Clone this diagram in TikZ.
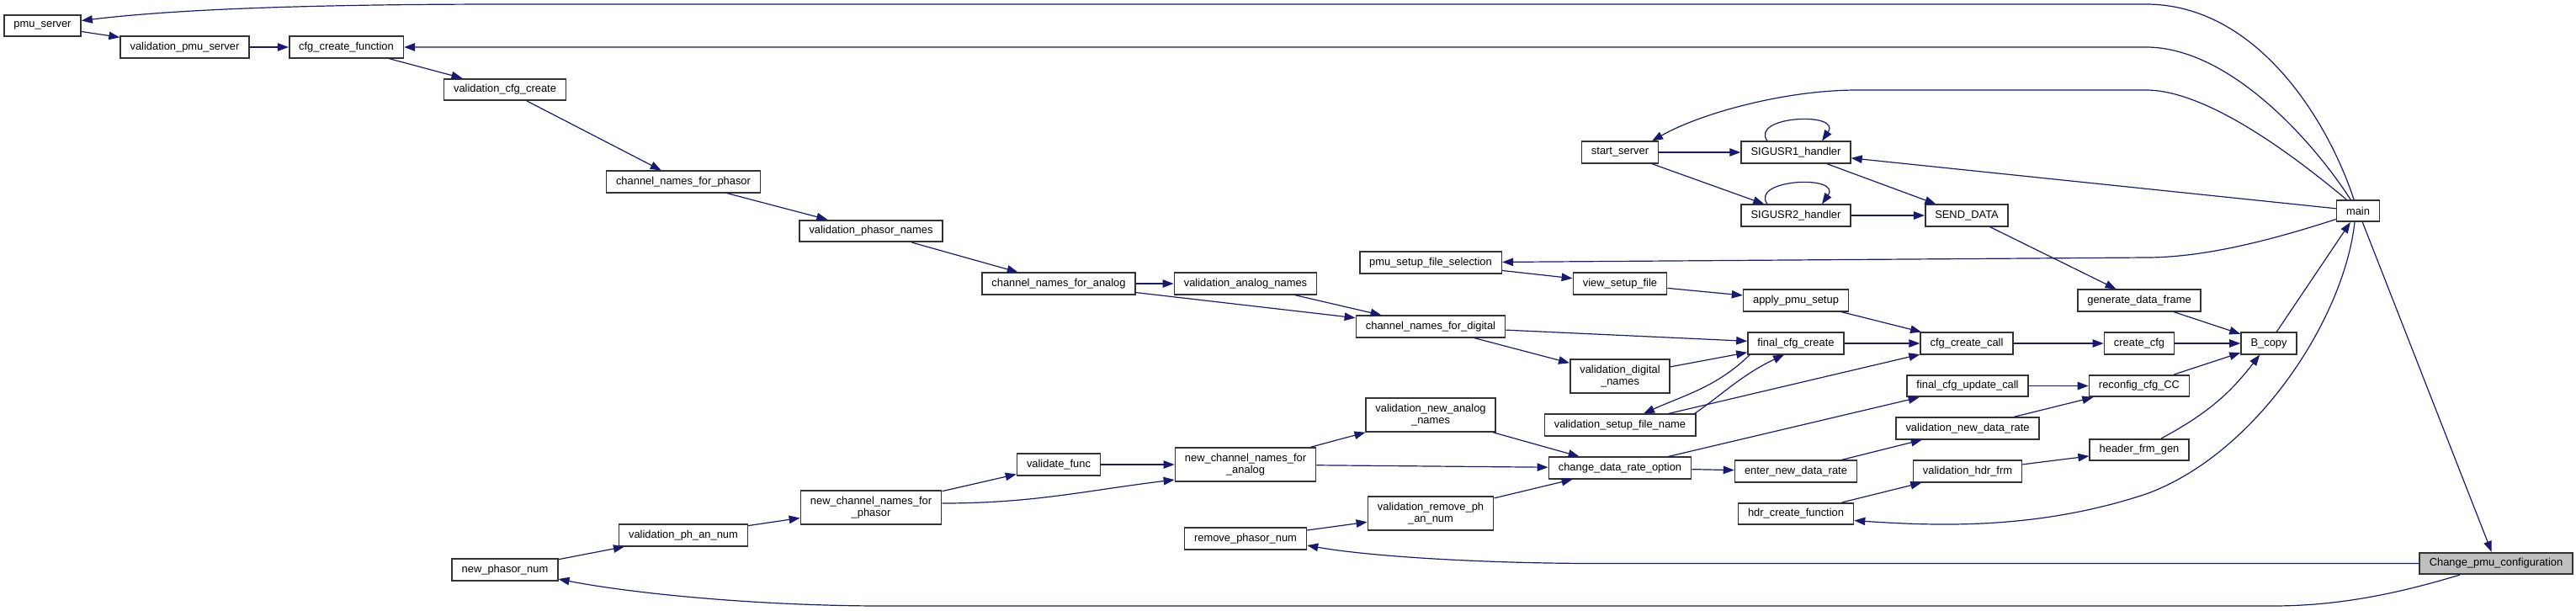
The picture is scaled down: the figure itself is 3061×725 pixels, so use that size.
\documentclass[tikz,border=0pt]{standalone}
\usepackage{fontspec}
\setmainfont{Liberation Sans}
\usetikzlibrary{arrows.meta, calc}
\definecolor{edgeblue}{HTML}{191970}

\begin{document}
\begin{tikzpicture}[
      x=0.5pt, y=-0.5pt,
      func/.style={rectangle, draw=black!80, line width=0.8pt, fill=white, inner xsep=5.75pt, inner ysep=0pt, minimum height=12.75pt, align=center, font=\fontsize{6.45}{7.25}\selectfont},
      func2/.style={func, minimum height=20pt},
      current/.style={func, fill=black!25},
      arrow/.style={-{Triangle[length=6.5pt, width=4.75pt]}, edgeblue, line width=0.6pt}
    ]
    \useasboundingbox (0,0) rectangle (3061,725);

    \node[func] (pmusrv) at (50.5,30.5) {pmu\_server};
    \node[func] (vpmusrv) at (219.5,56) {validation\_pmu\_server};
    \node[func] (cfgfn) at (411.5,56) {cfg\_create\_function};
    \node[func] (vcfg) at (600,106.5) {validation\_cfg\_create};
    \node[func] (chphasor) at (812,216) {channel\_names\_for\_phasor};
    \node[func] (vphasor) at (1035,274.5) {validation\_phasor\_names};
    \node[func] (chanalog) at (1258,337) {channel\_names\_for\_analog};
    \node[func] (vanalog) at (1480,337) {validation\_analog\_names};
    \node[func] (chdigital) at (1700,388) {channel\_names\_for\_digital};
    \node[func2] (vdigital) at (1925,447) {validation\_digital\\\_names};
    \node[func] (vsetup) at (1925,505) {validation\_setup\_file\_name};
    \node[func2] (vnewanalog) at (1700,493) {validation\_new\_analog\\\_names};
    \node[func] (cdrate) at (1925,556) {change\_data\_rate\_option};
    \node[func2] (vremove) at (1700,610) {validation\_remove\_ph\\\_an\_num};
    \node[func] (rmphasor) at (1480,640) {remove\_phasor\_num};
    \node[func2] (nchanalog) at (1480,552) {new\_channel\_names\_for\\\_analog};
    \node[func] (vfunc) at (1258,552) {validate\_func};
    \node[func2] (nchphasor) at (1035,603) {new\_channel\_names\_for\\\_phasor};
    \node[func] (vphan) at (812,636) {validation\_ph\_an\_num};
    \node[func] (nphasor) at (600,677) {new\_phasor\_num};
    \node[func] (startsrv) at (1925,181) {start\_server};
    \node[func] (psfsel) at (1700,312) {pmu\_setup\_file\_selection};
    \node[func] (viewsetup) at (1925,337) {view\_setup\_file};
    \node[func] (sigone) at (2134,181) {SIGUSR1\_handler};
    \node[func] (sigtwo) at (2134,256) {SIGUSR2\_handler};
    \node[func] (senddata) at (2337,256) {SEND\_DATA};
    \node[func] (applysetup) at (2134,357) {apply\_pmu\_setup};
    \node[func] (gendata) at (2542,357) {generate\_data\_frame};
    \node[func] (main) at (2802,250.5) {main};
    \node[func] (fcfg) at (2134,408) {final\_cfg\_create};
    \node[func] (cfgcall) at (2337,408) {cfg\_create\_call};
    \node[func] (createcfg) at (2542,408) {create\_cfg};
    \node[func] (bcopy) at (2696,408) {B\_copy};
    \node[func] (fupdate) at (2338,458.5) {final\_cfg\_update\_call};
    \node[func] (reconfig) at (2542,458.5) {reconfig\_cfg\_CC};
    \node[func] (vrate) at (2338,509) {validation\_new\_data\_rate};
    \node[func] (hdrgen) at (2542,534.5) {header\_frm\_gen};
    \node[func] (enterrate) at (2134,560) {enter\_new\_data\_rate};
    \node[func] (vhdr) at (2338,560) {validation\_hdr\_frm};
    \node[func] (hdrfn) at (2134,610.5) {hdr\_create\_function};
    \node[current] (change) at (2966,669.5) {Change\_pmu\_configuration};

    \draw[arrow] ($(main.north)+(-5,0)$) .. controls (2765,140) and (2680,5) .. (2550,5) -- (600,5) .. controls (350,5) and (200,12) .. ($(pmusrv.east)+(0,-6)$);
    \draw[arrow] ($(main.north)+(-9,0)$) .. controls (2750,170) and (2650,56) .. (2550,56) -- (cfgfn);
    \draw[arrow] ($(main.north)+(-14,0)$) .. controls (2720,180) and (2620,107) .. (2550,107) -- (2207,107) .. controls (2120,107) and (2020,135) .. ($(startsrv.north)+(38,0)$);
    \draw[arrow] (main) -- (sigone);
    \draw[arrow] ($(main.west)+(0,10)$) .. controls (2700,285) and (2620,306) .. (2550,306) -- (psfsel);
    \draw[arrow] ($(main.south)+(-4,0)$) .. controls (2785,380) and (2680,540) .. (2550,587) .. controls (2420,630) and (2300,625) .. ($(hdrfn.east)+(0,8)$);
    \draw[arrow] (main) -- (change);
    \draw[arrow] (bcopy) -- (main);
    \draw[arrow] (change.west) -- (1900,669.5) .. controls (1750,669.5) and (1620,660) .. ($(rmphasor.east)+(0,8)$);
    \draw[arrow] ($(change.south)+(-43,0)$) .. controls (2850,705) and (2780,720) .. (2700,720) -- (1050,720) .. controls (900,720) and (750,705) .. ($(nphasor.east)+(0,11)$);

    \draw[arrow] (pmusrv) -- (vpmusrv);
    \draw[arrow] (vpmusrv) -- (cfgfn);
    \draw[arrow] (cfgfn) -- (vcfg);
    \draw[arrow] (vcfg) -- (chphasor);
    \draw[arrow] (chphasor) -- (vphasor);
    \draw[arrow] (vphasor) -- (chanalog);
    \draw[arrow] (chanalog) -- (vanalog);
    \draw[arrow] (chanalog) -- (chdigital);
    \draw[arrow] (vanalog) -- (chdigital);
    \draw[arrow] (chdigital) -- (fcfg);
    \draw[arrow] (chdigital) -- (vdigital);
    \draw[arrow] (vdigital) -- (fcfg);
    \draw[arrow] ($(fcfg.south west)+(3,0)$) .. controls (2040,460) and (2000,470) .. ($(vsetup.north)+(28,0)$);
    \draw[arrow] ($(vsetup.north east)+(-2,0)$) .. controls (2045,470) and (2070,445) .. ($(fcfg.south)+(-14,0)$);
    \draw[arrow] (vsetup) -- (cfgcall);
    \draw[arrow] (fcfg) -- (cfgcall);
    \draw[arrow] (applysetup) -- (cfgcall);
    \draw[arrow] (viewsetup) -- (applysetup);
    \draw[arrow] (psfsel) -- (viewsetup);
    \draw[arrow] (cfgcall) -- (createcfg);
    \draw[arrow] (createcfg) -- (bcopy);
    \draw[arrow] (gendata) -- (bcopy);
    \draw[arrow] (reconfig) -- (bcopy);
    \draw[arrow] (hdrgen) to[bend right=12] (bcopy);
    \draw[arrow] (startsrv) -- (sigone);
    \draw[arrow] (startsrv) -- (sigtwo);
    \draw[arrow] ($(sigone.north)+(-34,0)$) .. controls ($(sigone.north)+(-55,-30)$) and ($(sigone.north)+(55,-35)$) .. ($(sigone.north)+(31,0)$);
    \draw[arrow] ($(sigtwo.north)+(-34,0)$) .. controls ($(sigtwo.north)+(-55,-30)$) and ($(sigtwo.north)+(55,-35)$) .. ($(sigtwo.north)+(31,0)$);
    \draw[arrow] (sigone) -- (senddata);
    \draw[arrow] (sigtwo) -- (senddata);
    \draw[arrow] (senddata) -- (gendata);
    \draw[arrow] (fupdate) -- (reconfig);
    \draw[arrow] (vrate) -- (reconfig);
    \draw[arrow] (enterrate) -- (vrate);
    \draw[arrow] (cdrate) -- (enterrate);
    \draw[arrow] (cdrate) -- (fupdate);
    \draw[arrow] (vhdr) -- (hdrgen);
    \draw[arrow] (hdrfn) -- (vhdr);
    \draw[arrow] (nphasor) -- (vphan);
    \draw[arrow] (vphan) -- (nchphasor);
    \draw[arrow] (nchphasor) -- (vfunc);
    \draw[arrow] ($(nchphasor.east)+(0,-5)$) to[out=0, in=187] ($(nchanalog.west)+(0,18)$);
    \draw[arrow] (vfunc) -- (nchanalog);
    \draw[arrow] (nchanalog) -- (vnewanalog);
    \draw[arrow] (nchanalog) -- (cdrate);
    \draw[arrow] (vnewanalog) -- (cdrate);
    \draw[arrow] (vremove) -- (cdrate);
    \draw[arrow] (rmphasor) -- (vremove);
  \end{tikzpicture}
\end{document}
